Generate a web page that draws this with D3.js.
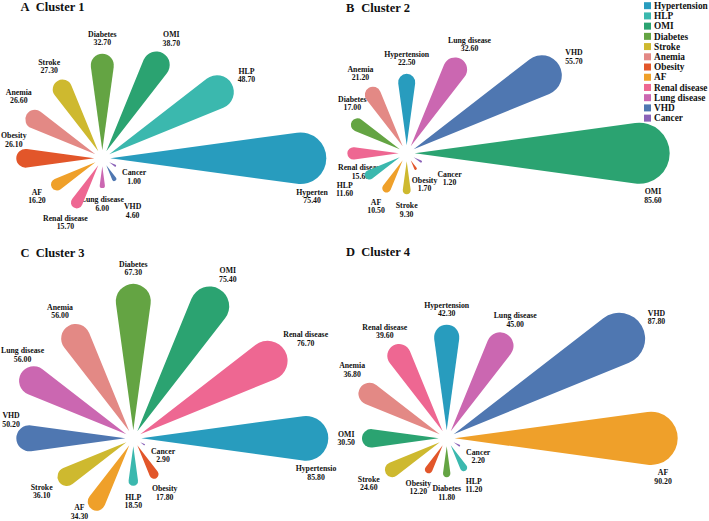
<!DOCTYPE html>
<html><head><meta charset="utf-8">
<script src="https://cdn.jsdelivr.net/npm/d3@7"></script>
<style>
html,body{margin:0;padding:0;background:#fff;}
svg{display:block;font-family:"Liberation Serif","Times New Roman",serif;font-weight:bold;}
</style></head><body>
<div id="chart"></div>
<script>
// ---- data ----
const categories = ["Hypertension","HLP","OMI","Diabetes","Stroke","Anemia","Obesity","AF","Renal disease","Lung disease","VHD","Cancer"];
const colors = ["#289CBE","#3BB8AE","#2BA371","#64A443","#CEB92F","#E38985","#E2562A","#EFA02A","#EE6792","#CB67B1","#4F77B1","#8B63B8"];
const cluster1 = [75.4, 48.7, 38.7, 32.7, 27.3, 26.6, 26.1, 16.2, 15.7, 6.0, 4.6, 1.0];
const cluster2 = [22.5, 11.6, 85.6, 17.0, 9.3, 21.2, 1.7, 10.5, 15.6, 32.6, 55.7, 1.2];
const cluster3 = [85.8, 18.5, 75.4, 67.3, 36.1, 56.0, 17.8, 34.3, 76.7, 56.0, 50.2, 2.9];
const cluster4 = [42.3, 11.2, 30.5, 11.8, 24.6, 36.8, 12.2, 90.2, 39.6, 45.0, 87.8, 2.2];
const clusterTitles = ["Cluster 1","Cluster 2","Cluster 3","Cluster 4"];
const panelLetters = ["A","B","C","D"];

// ---- layout ----
const W = 709, H = 521;
const panels = [
  {values: cluster1, cx: 102.3, cy: 158.3, r0: 13, rMax: 224, tx: 20.5, ty: 10.5, labelLeft: 1,   labelRight: 329},
  {values: cluster2, cx: 406.7, cy: 153.3, r0: 14, rMax: 263, tx: 346, ty: 11.5, labelLeft: 338, labelRight: 709},
  {values: cluster3, cx: 133.3, cy: 438.3, r0: 7,  rMax: 195, tx: 20.5, ty: 256.5, labelLeft: 1,   labelRight: 337},
  {values: cluster4, cx: 446.7, cy: 438.3, r0: 10, rMax: 231, tx: 346, ty: 256, labelLeft: 333, labelRight: 709}
];
const halfAngle = 7.8 * Math.PI / 180;
const hole = 8;
const labelFont = 7.8, lineGap = 8.5, labelPad = 7;

const svg = d3.select("#chart").append("svg").attr("width", W).attr("height", H);
const color = d3.scaleOrdinal(categories, colors);
const fmt = d3.format(".2f");
const angle = d3.scaleLinear().domain([0, categories.length]).range([0, 2 * Math.PI]);

function geom(L) {
  const s = Math.sin(halfAngle);
  const dd = Math.max(0.5, (L - hole) / (1 + s));
  return {dd, r: dd * s, t: dd * Math.cos(halfAngle)};
}
function petalPath(L) {
  const g = geom(L);
  const p = d3.path();
  p.moveTo(hole, 0);
  p.lineTo(hole + g.t * Math.cos(halfAngle), -g.t * Math.sin(halfAngle));
  p.arc(hole + g.dd, 0, g.r, -(Math.PI / 2 + halfAngle), Math.PI / 2 + halfAngle, false);
  p.closePath();
  return p.toString();
}
function overlaps(b, boxes) {
  return boxes.some(o => b.x0 < o.x1 && b.x1 > o.x0 && b.y0 < o.y1 && b.y1 > o.y0);
}

panels.forEach((P, pi) => {
  const data = categories.map((c, i) => ({name: c, value: P.values[i]}));
  const sorted = data.slice().sort((a, b) => d3.descending(a.value, b.value));
  const rScale = d3.scaleLinear().domain([0, d3.max(P.values)]).range([P.r0, P.rMax]);

  // titles
  svg.append("text").attr("x", P.tx).attr("y", P.ty).attr("font-size", 12.5).attr("fill", "#111").text(panelLetters[pi]);
  svg.append("text").attr("x", P.tx + 15.3).attr("y", P.ty).attr("font-size", 12.5).attr("fill", "#111").text(clusterTitles[pi]);

  const labelG = svg.append("g");
  const petalG = svg.append("g").attr("transform", `translate(${P.cx},${P.cy})`);
  const boxes = [];

  sorted.forEach((d, k) => {
    const a = angle(k);
    const L = rScale(d.value);
    const g = geom(L);
    petalG.append("path")
      .attr("d", petalPath(L))
      .attr("transform", `rotate(${-a * 180 / Math.PI})`)
      .attr("fill", color(d.name));

    // label
    const lg = labelG.append("g");
    const t1 = lg.append("text").attr("font-size", labelFont).attr("text-anchor", "middle").attr("fill", "#111").text(d.name);
    const t2 = lg.append("text").attr("font-size", labelFont).attr("text-anchor", "middle").attr("fill", "#111").text(fmt(d.value));
    const w = Math.max(t1.node().getComputedTextLength(), t2.node().getComputedTextLength());
    const hw = w / 2, hh = lineGap;
    let lx, ly, px, py;
    const ca = Math.cos(a), sa = Math.sin(a);
    px = ca; py = -sa;
    const tipx = P.cx + L * ca, tipy = P.cy - L * sa;
    if (k === 0) {
      const ccx = P.cx + (hole + g.dd) * ca;
      lx = ccx + g.r * 0.45;
      ly = P.cy + g.r + 12;
      px = 0; py = 1;
    } else {
      const e = Math.min(Math.abs(ca) > 1e-6 ? hw / Math.abs(ca) : 1e9, Math.abs(sa) > 1e-6 ? hh / Math.abs(sa) : 1e9);
      lx = tipx + (labelPad + e) * ca;
      ly = tipy - (labelPad + e) * sa;
      if (lx - hw < P.labelLeft) {
        // no room on the outer side: sit the label over (or under) the tip
        lx = Math.max(P.labelLeft + hw, tipx - hw * 0.6);
        const above = sa > 0.01 || P.labelLeft < 5;
        ly = above ? tipy - (hh + 10) : tipy + (hh + 10);
        px = 0; py = above ? -1 : 1;
      }
      if (ly + hh > H - 0.5) {
        // keep inside the bottom edge, beside the tip
        ly = H - 0.5 - hh;
        lx = tipx + (ca < 0 ? -1 : 1) * (hw + 4);
        px = ca < 0 ? -1 : 1; py = 0;
      }
    }
    let box = () => ({x0: lx - hw, x1: lx + hw, y0: ly - hh, y1: ly + hh});
    let steps = 0;
    while (overlaps(box(), boxes) && steps < 30) { lx += px; ly += py; steps++; }
    boxes.push(box());

    // truncate the name if it overflows the panel's right bound
    let name = d.name;
    while (name.length > 1 && lx + t1.node().getComputedTextLength() / 2 > P.labelRight) {
      name = name.slice(0, -1);
      t1.text(name);
    }
    t1.attr("x", lx).attr("y", ly - lineGap / 2).attr("dy", "0.35em");
    t2.attr("x", lx).attr("y", ly + lineGap / 2).attr("dy", "0.35em");
  });
});

// legend
const legend = svg.append("g");
categories.forEach((c, i) => {
  const y = 5.7 + i * 10.22;
  legend.append("rect").attr("x", 644).attr("y", y - 3.5).attr("width", 7).attr("height", 7).attr("fill", color(c));
  legend.append("text").attr("x", 654).attr("y", y).attr("dy", "0.35em").attr("font-size", 9.3).attr("fill", "#111").text(c);
});
</script>
</body></html>
